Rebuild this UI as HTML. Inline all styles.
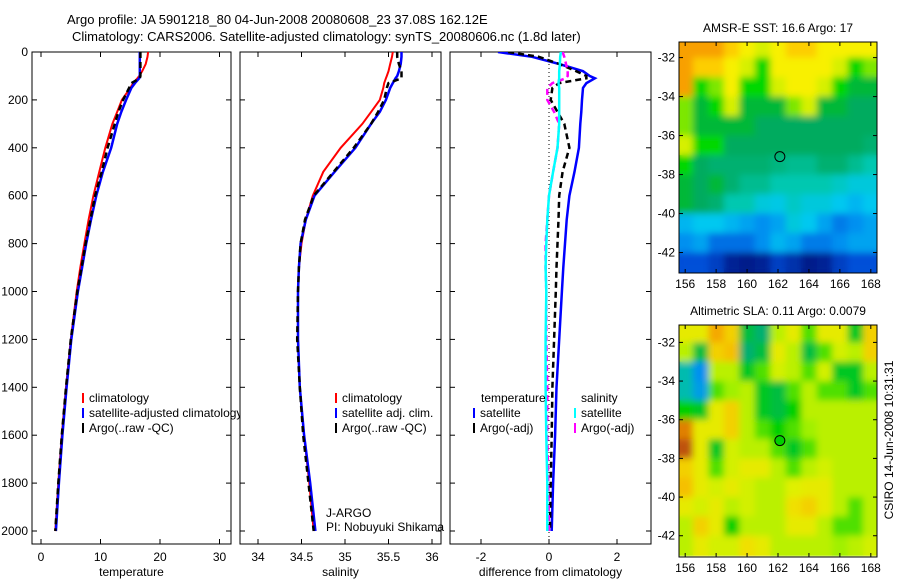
<!DOCTYPE html>
<html><head><meta charset="utf-8"><style>
body{margin:0;background:#fff}
svg{display:block;font-family:"Liberation Sans",sans-serif}
text{font-size:12px;fill:#000}
</style></head><body>
<svg id="s" width="900" height="580" viewBox="0 0 900 580">
<defs>
<clipPath id="c1"><rect x="32" y="52" width="199" height="492"/></clipPath>
<clipPath id="c2"><rect x="240" y="52" width="201" height="492"/></clipPath>
<clipPath id="c3"><rect x="450" y="52" width="201" height="492"/></clipPath>
<clipPath id="cm1"><rect x="679" y="42" width="198" height="231"/></clipPath>
<clipPath id="cm2"><rect x="679" y="325" width="198" height="232"/></clipPath>
<filter id="bl" x="-5%" y="-5%" width="110%" height="110%"><feGaussianBlur stdDeviation="3.5"/></filter>
</defs>
<text x="67" y="24" style="font-size:13px">Argo profile: JA 5901218_80 04-Jun-2008 20080608_23 37.08S 162.12E</text>
<text x="72" y="41" style="font-size:13px">Climatology: CARS2006. Satellite-adjusted climatology: synTS_20080606.nc (1.8d later)</text>
<g id="root"></g>
</svg>
<script>
const depths=[0,20,50,80,100,110,130,150,200,250,300,400,500,600,700,800,900,1000,1200,1400,1600,1800,2000];
const tClim=[18,17.9,17.6,17,16.5,16.2,15.5,15,13.6,12.8,12,10.8,9.8,8.8,8,7.3,6.6,6,5,4.2,3.5,2.9,2.4];
const tSat=[16.6,16.6,16.6,16.6,16.6,16.5,15.8,15.2,14.3,13.5,12.8,11.8,10.4,9.3,8.4,7.6,6.9,6.2,5.1,4.3,3.6,3.0,2.5];
const tArgo=[16.7,16.7,16.7,16.7,16.7,16.6,15.2,14.8,13.8,13,12.4,11.2,10.2,9.1,8.3,7.5,6.8,6.1,5,4.2,3.5,2.9,2.4];
const sClim=[35.55,35.54,35.52,35.5,35.48,35.47,35.45,35.44,35.40,35.3,35.2,34.95,34.75,34.63,34.55,34.5,34.47,34.46,34.46,34.48,34.53,34.59,34.64];
const sSat=[35.65,35.65,35.64,35.62,35.6,35.58,35.55,35.52,35.47,35.4,35.3,35.12,34.88,34.65,34.55,34.49,34.47,34.46,34.46,34.48,34.53,34.6,34.66];
const sArgo=[35.6,35.6,35.62,35.65,35.65,35.65,35.5,35.48,35.45,35.38,35.3,35.1,34.87,34.64,34.54,34.49,34.47,34.46,34.45,34.48,34.52,34.58,34.64];
const dTSat=[-1.5,-0.5,0.3,1.0,1.2,1.35,1.1,1.0,0.97,0.95,0.92,0.88,0.75,0.6,0.52,0.47,0.42,0.38,0.3,0.22,0.18,0.12,0.08];
const dTArgo=[-1.2,-0.3,0.3,0.8,1.1,1.1,0.3,0.1,0.05,0.25,0.45,0.6,0.4,0.3,0.28,0.25,0.22,0.2,0.15,0.1,0.08,0.05,0.03];
const dSSat=[0.35,0.33,0.32,0.3,0.3,0.3,0.28,0.3,0.3,0.3,0.3,0.25,0.12,0,-0.05,-0.08,-0.1,-0.08,-0.1,-0.1,-0.08,-0.05,-0.05];
const dSArgo=[0.4,0.45,0.5,0.55,0.55,0.5,0.1,-0.05,-0.05,0.15,0.3,0.25,0.12,0,-0.05,-0.1,-0.1,-0.08,-0.08,-0.05,-0.05,-0.02,0];
const depthTicks=[0,200,400,600,800,1000,1200,1400,1600,1800,2000];
const tTicks=[0,10,20,30];
const sTicks=[34,34.5,35,35.5,36];
const dTicks=[-2,0,2];
const lons=[156,157,158,159,160,161,162,163,164,165,166,167,168];
const lats=[-31.5,-32.5,-33.5,-34.5,-35.5,-36.5,-37.5,-38.5,-39.5,-40.5,-41.5,-42.5];
const lonTicks=[156,158,160,162,164,166,168];
const latTicks=[-32,-34,-36,-38,-40,-42];
const sst=[
[19.5,19.5,19.5,19,18.5,18,18.5,19,19,18.5,18.5,18.5,18.5],
[19.5,19,19,18.5,18,17,18.5,18.5,18.5,18.5,18,17,17.5],
[19.5,17,17.5,18.5,17,17,18,18.5,18.5,18,17,16.8,16.8],
[17.5,16.8,17,18,16.8,16.8,16.8,17.5,18,16.8,16.8,16.6,16.6],
[17.5,16.8,16.8,16.8,16.8,16.6,16.6,16.6,16.6,16.6,16.6,16.6,16.6],
[18,17,17,16.6,16.6,16.6,16.6,16.6,16.6,16.6,16.6,16.6,16.4],
[17,16.6,16.4,16.4,16.4,16.4,16.3,16.2,16.2,16.4,16.4,16.2,16],
[16.8,16.6,16.8,16.4,16.2,16.2,16,16,16,16,15.8,15.6,15.6],
[16.8,16.6,16.4,16,16,15.6,15.5,15.8,15.6,15.6,15.4,15.2,15.4],
[15.2,15.4,15.4,15.2,15,14.8,15,15.6,15.4,15,14.6,14.8,15],
[14.8,15,14.5,14.5,14.5,14.8,15.2,15,14.6,14.6,14.8,15,15],
[14.2,14.2,14,13.6,13.5,13.6,14,13.8,13.5,13.6,14,14.2,14.2]];
const sla=[
[0.05,0.05,0.15,0.1,-0.12,-0.15,0,0.05,-0.05,0.05,0.05,-0.1,0.1],
[0,-0.12,0.1,0.12,-0.15,-0.12,0.05,0,-0.12,-0.05,0.02,0,0.1],
[-0.2,-0.3,0,0,-0.1,-0.05,0.02,0,-0.05,0.02,-0.1,-0.1,0],
[-0.2,-0.28,-0.05,-0.02,0,-0.1,-0.12,-0.05,0,-0.05,-0.05,-0.1,-0.05],
[-0.08,-0.1,0.05,0.1,0,-0.1,-0.12,-0.08,0,0,0,0,0],
[0.2,0.05,0.05,0.1,0,-0.05,-0.08,-0.05,-0.02,0,0,0,0],
[0.25,0.05,-0.1,0.02,0,0,-0.05,-0.1,-0.05,0,0,0,0],
[0.1,0.05,-0.05,0.02,0.05,0.05,0,-0.05,0,0.02,0,0,0],
[0.12,0.05,0.02,0.05,0.02,0,0,0.03,0.05,0.05,0,0,0],
[0.05,0.02,0.05,0,0.02,0,0,0.08,0.1,0.05,0,-0.05,0],
[0,0.1,0.05,-0.08,0,0,0,0.05,0.05,0,-0.05,-0.05,0],
[0,0.05,0.02,0.02,0.08,0.05,0,0,0,0,-0.02,0,0.02]];
const argoLon=162.12, argoLat=-37.08;

const NS='http://www.w3.org/2000/svg';
const root=document.getElementById('root');
function el(tag,attrs,parent){const e=document.createElementNS(NS,tag);for(const k in attrs)e.setAttribute(k,attrs[k]);(parent||root).appendChild(e);return e;}
const yD=d=>52+d*0.2395;
const xT=v=>41+5.95*v;
const xS=v=>258+87*(v-34);
const xDf=v=>549+34*v;

function frame(x,y,w,h,name){
  const r=el('rect',{x,y,width:w,height:h,fill:'#fff',stroke:'#000','stroke-width':1});
  
  
  return r;
}
function txt(x,y,s,anchor,name,g){
  const t=el('text',{x,y,'text-anchor':anchor||'start'},g);t.textContent=s;
  
  
  return t;
}
function line(xf,vals,color,dash,clip,name,w){
  const pts=vals.map((v,i)=>xf(v).toFixed(1)+','+yD(depths[i]).toFixed(1)).join(' ');
  const p=el('polyline',{points:pts,fill:'none',stroke:color,'stroke-width':w||2,'stroke-dasharray':dash||'none','clip-path':'url(#'+clip+')'});
  
  
}
function legend(x,y,color,label,name){
  const l=el('line',{x1:x,y1:y-9,x2:x,y2:y+1,stroke:color,'stroke-width':2});
  
  
  txt(x+6,y,label,'start',name);
}
const panels=[
 {x0:32,x1:231,xf:xT,ticks:tTicks,title:'temperature',n:'temperature'},
 {x0:240,x1:441,xf:xS,ticks:sTicks,title:'salinity',n:'salinity'},
 {x0:450,x1:651,xf:xDf,ticks:dTicks,title:'difference from climatology',n:'difference'}];
panels.forEach((p,i)=>{
  frame(p.x0,52,p.x1-p.x0,492,p.n+'-panel');
  depthTicks.forEach(d=>{
    const y=yD(d);
    el('line',{x1:p.x0,y1:y,x2:p.x0+5,y2:y,stroke:'#000'});
    el('line',{x1:p.x1-5,y1:y,x2:p.x1,y2:y,stroke:'#000'});
    if(i===0)txt(p.x0-4,y+4,String(d),'end','depth-tick-label');
  });
  p.ticks.forEach(v=>{
    const x=p.xf(v);
    el('line',{x1:x,y1:544,x2:x,y2:539,stroke:'#000'});
    el('line',{x1:x,y1:52,x2:x,y2:57,stroke:'#000'});
    txt(x,561,String(v),'middle',p.n+'-tick-label');
  });
  txt((p.x0+p.x1)/2,576,p.title,'middle',p.n+'-axis-title');
});
line(xT,tClim,'#ff0000',null,'c1','temperature-climatology-line');
line(xT,tSat,'#0000ff',null,'c1','temperature-satellite-line',2.5);
line(xT,tArgo,'#000',"6,4",'c1','temperature-argo-line',2.5);
legend(83,402,'#f00','climatology','legend-climatology');
legend(83,417,'#00f','satellite-adjusted climatology','legend-satellite-adjusted');
legend(83,432,'#000','Argo(..raw -QC)','legend-argo');
frame(240,52,201,492,'salinity-panel-cover');
depthTicks.forEach(d=>{const y=yD(d);el('line',{x1:240,y1:y,x2:245,y2:y,stroke:'#000'});el('line',{x1:436,y1:y,x2:441,y2:y,stroke:'#000'});});
sTicks.forEach(v=>{const x=xS(v);el('line',{x1:x,y1:544,x2:x,y2:539,stroke:'#000'});el('line',{x1:x,y1:52,x2:x,y2:57,stroke:'#000'});});
line(xS,sClim,'#ff0000',null,'c2','salinity-climatology-line');
line(xS,sSat,'#0000ff',null,'c2','salinity-satellite-line',2.5);
line(xS,sArgo,'#000',"6,4",'c2','salinity-argo-line',2.5);
legend(336,402,'#f00','climatology','legend-sal-climatology');
legend(336,417,'#00f','satellite adj. clim.','legend-sal-satellite');
legend(336,432,'#000','Argo(..raw -QC)','legend-sal-argo');
txt(326,517,'J-ARGO','start','data-centre-label');
txt(326,531,'PI: Nobuyuki Shikama','start','pi-label');
frame(450,52,201,492,'difference-panel-cover');
depthTicks.forEach(d=>{const y=yD(d);el('line',{x1:450,y1:y,x2:455,y2:y,stroke:'#000'});el('line',{x1:646,y1:y,x2:651,y2:y,stroke:'#000'});});
dTicks.forEach(v=>{const x=xDf(v);el('line',{x1:x,y1:544,x2:x,y2:539,stroke:'#000'});el('line',{x1:x,y1:52,x2:x,y2:57,stroke:'#000'});});
el('line',{x1:xDf(0),y1:52,x2:xDf(0),y2:544,stroke:'#000','stroke-dasharray':'1,3'});
line(xDf,dTSat,'#0000ff',null,'c3','diff-temperature-satellite-line',2.5);
line(xDf,dTArgo,'#000',"6,4",'c3','diff-temperature-argo-line',2.5);
line(xDf,dSArgo,'#ff00ff',"6,4",'c3','diff-salinity-argo-line',2.5);
line(xDf,dSSat,'#00ffff',null,'c3','diff-salinity-satellite-line',2.5);
txt(481,402,'temperature','start','legend-temperature-heading');
legend(474,417,'#00f','satellite','legend-diff-temp-satellite');
legend(474,432,'#000','Argo(-adj)','legend-diff-temp-argo');
txt(581,402,'salinity','start','legend-salinity-heading');
legend(575,417,'#0ff','satellite','legend-diff-sal-satellite');
legend(575,432,'#f0f','Argo(-adj)','legend-diff-sal-argo');

function rgb(c){return 'rgb('+c.join(',')+')';}
function interp(stops,v){
  if(v<=stops[0][0])return rgb(stops[0][1]);
  for(let i=1;i<stops.length;i++){if(v<=stops[i][0]){const a=stops[i-1],b=stops[i],t=(v-a[0])/(b[0]-a[0]);
    return rgb([0,1,2].map(k=>Math.round(a[1][k]+(b[1][k]-a[1][k])*t)));}}
  return rgb(stops[stops.length-1][1]);
}
function hex(h){return [parseInt(h.substr(1,2),16),parseInt(h.substr(3,2),16),parseInt(h.substr(5,2),16)];}
const sstStops=[[13.5,'#001a8a'],[14.2,'#0050d8'],[14.8,'#0090f0'],[15.4,'#00c8f0'],[16.0,'#00c8b0'],[16.4,'#00b070'],[16.7,'#00a855'],[17.0,'#00d800'],[17.8,'#c8f000'],[18.5,'#f8f000'],[19.2,'#ffc000'],[19.8,'#f08000']].map(s=>[s[0],hex(s[1])]);
const slaStops=[[-0.3,'#0090f0'],[-0.22,'#00c0c8'],[-0.15,'#00b070'],[-0.08,'#00d000'],[-0.02,'#a0f000'],[0.03,'#e0f000'],[0.08,'#f0e000'],[0.14,'#f8b000'],[0.2,'#e08000'],[0.27,'#b04010']].map(s=>[s[0],hex(s[1])]);
function map(y0,y1,latTop,latBot,grid,stops,clip,name,title,fillMarker){
  const xL=lon=>679+(lon-155.6)*(198/12.8);
  const yL=lat=>y0+(latTop-lat)*((y1-y0)/(latTop-latBot));
  const g=el('g',{'clip-path':'url(#'+clip+')'});
  
  
  const ga=el('g',{},g);
  const gb=el('g',{filter:'url(#bl)'},g);
  [ga,gb].forEach(gg=>{
    lats.forEach((lat,r)=>lons.forEach((lon,c)=>{
      const x=xL(lon-0.5),y=yL(lat+0.5);
      const cell=el('rect',{x:x.toFixed(1),y:y.toFixed(1),width:(xL(lon+0.5)-x+0.6).toFixed(1),height:(yL(lat-0.5)-y+0.6).toFixed(1),fill:interp(stops,grid[r][c])},gg);
      
      
    }));
  });
  const f=el('rect',{x:679,y:y0,width:198,height:y1-y0,fill:'none',stroke:'#000'});
  
  
  lonTicks.forEach(l=>{const x=xL(l);el('line',{x1:x,y1:y1,x2:x,y2:y1-4,stroke:'#000'});el('line',{x1:x,y1:y0,x2:x,y2:y0+4,stroke:'#000'});txt(x,y1+15,String(l),'middle',name+'-lon-label');});
  latTicks.forEach(l=>{const y=yL(l);el('line',{x1:679,y1:y,x2:683,y2:y,stroke:'#000'});el('line',{x1:873,y1:y,x2:877,y2:y,stroke:'#000'});txt(675,y+4,String(l),'end',name+'-lat-label');});
  const m=el('circle',{cx:xL(argoLon),cy:yL(argoLat),r:5,fill:fillMarker?interp(stops,-0.08):'none',stroke:'#000','stroke-width':1});
  
  
  txt(778,y0-10,title,'middle',name+'-title');
}
map(42,273,-31.2,-43.05,sst,sstStops,'cm1','sst-map','AMSR-E SST: 16.6 Argo: 17',false);
map(325,557,-31.1,-43.1,sla,slaStops,'cm2','sla-map','Altimetric SLA: 0.11 Argo: 0.0079',true);
const rt=txt(0,0,'CSIRO 14-Jun-2008 10:31:31','middle','timestamp-label');
rt.setAttribute('transform','translate(893,440) rotate(-90)');
</script>
</body></html>
